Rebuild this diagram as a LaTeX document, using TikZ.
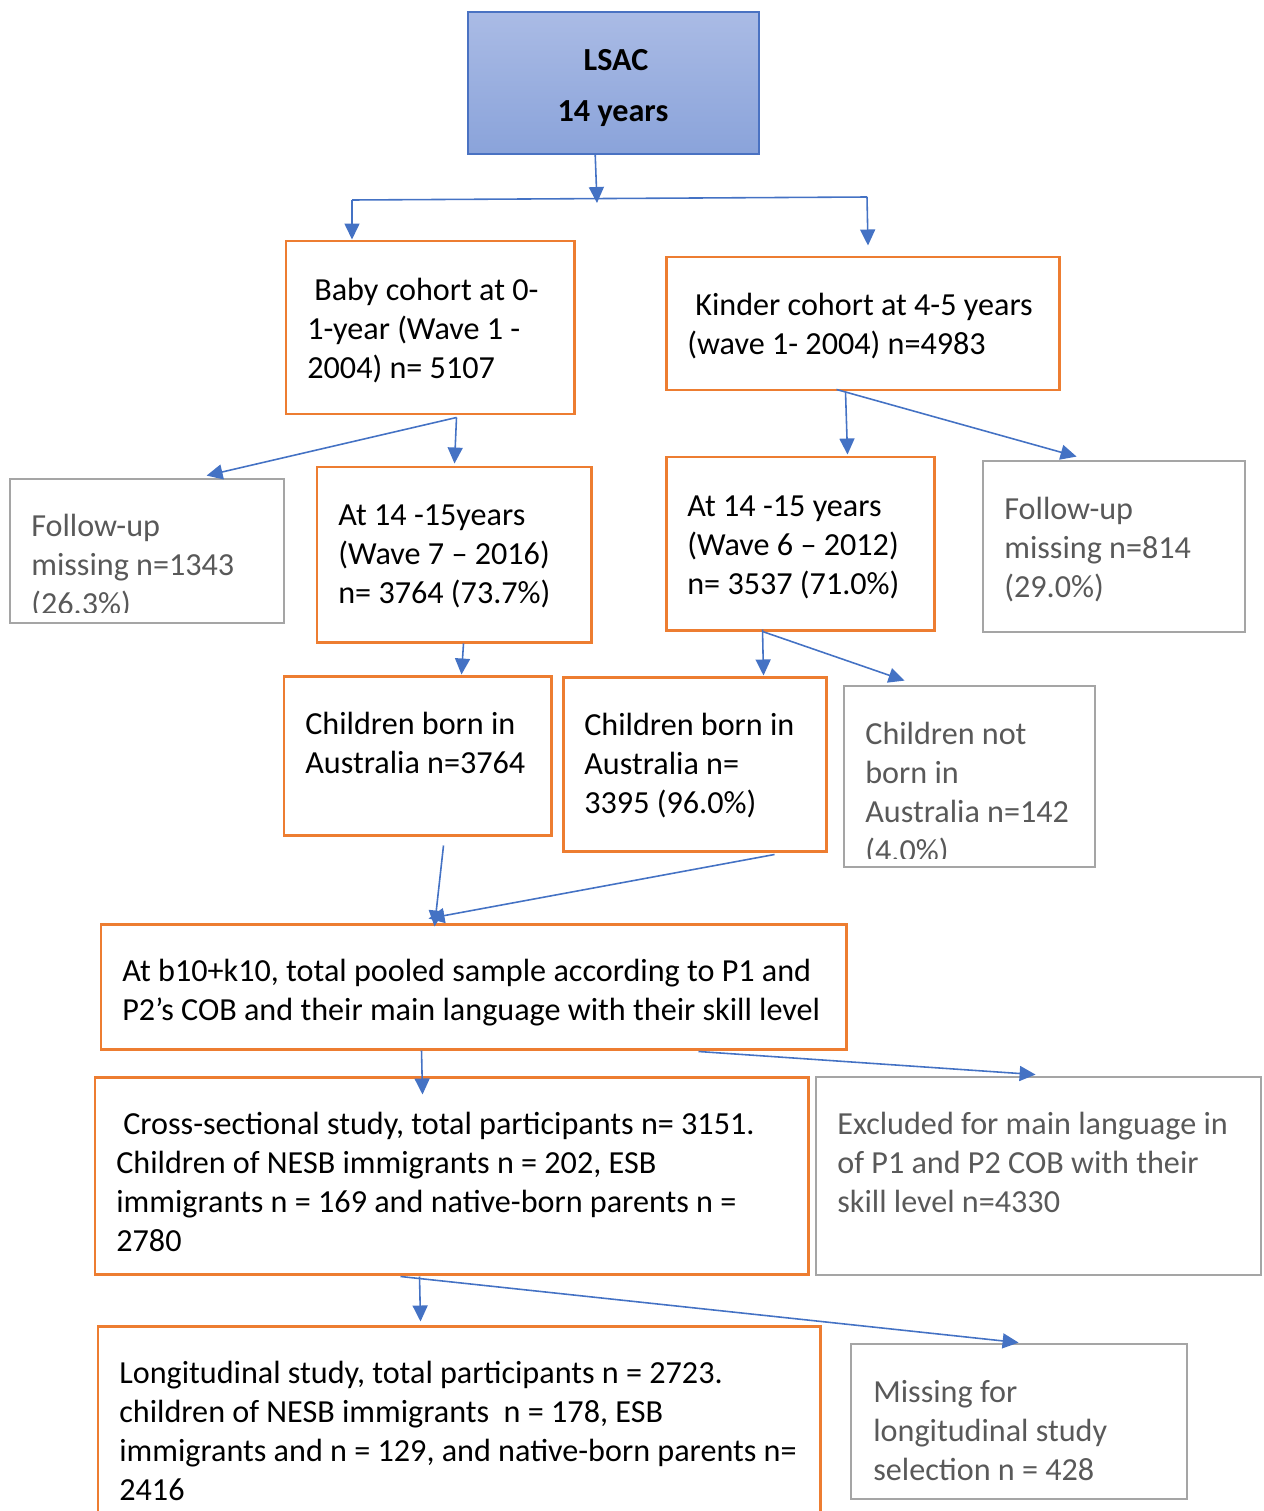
\documentclass[tikz,border=0pt]{standalone}
\usepackage{fontspec}
\setmainfont{Carlito}
\usetikzlibrary{arrows.meta,fit,calc}
\definecolor{orng}{HTML}{ED7D31}
\definecolor{gbord}{HTML}{A5A5A5}
\definecolor{gtext}{HTML}{595959}
\definecolor{arrblue}{HTML}{4472C4}
\definecolor{lbord}{HTML}{4A72C2}
\definecolor{ltop}{HTML}{AABBE5}
\definecolor{lbot}{HTML}{8AA3DA}
\begin{document}
\begin{tikzpicture}[x=0.02cm,y=-0.02cm,
  obox/.style={draw=orng,line width=1.7pt,inner sep=0pt},
  gbox/.style={draw=gbord,line width=1.6pt,inner sep=0pt},
  lbox/.style={draw=lbord,line width=0.9pt,inner sep=0pt,top color=ltop,bottom color=lbot},
  txt/.style={anchor=north west,inner sep=0pt,align=left,font=\fontsize{18.3}{22.1}\selectfont},
  gtxt/.style={txt,text=gtext},
  btxt/.style={inner sep=0pt,font=\fontsize{18.3}{22.1}\selectfont\bfseries},
  arr/.style={draw=arrblue,line width=0.9pt,-{Triangle[length=0.32cm,width=0.3cm]}},
  conn/.style={draw=arrblue,line width=0.9pt}]
\useasboundingbox (0,0) rectangle (1264,1511);
\clip (0,0) rectangle (1264,1511);

% boxes
\node[lbox,fit={(468,12) (759,154)}] (lsac) {};
\node[obox,fit={(286,241) (574,414)}] (baby) {};
\node[obox,fit={(666,257) (1059,390)}] (kinder) {};
\node[gbox,fit={(10,479) (284,623)}] (fupl) {};
\node[obox,fit={(317,467) (591,642)}] (atl) {};
\node[obox,fit={(666,457) (934,630)}] (atr) {};
\node[gbox,fit={(983,461) (1245,632)}] (fupr) {};
\node[obox,fit={(284,676) (551,835)}] (ausl) {};
\node[obox,fit={(563,677) (826,851)}] (ausr) {};
\node[gbox,fit={(844,686) (1095,867)}] (notborn) {};
\node[obox,fit={(101,924) (846,1049)}] (pooled) {};
\node[obox,fit={(95,1077) (808,1274)}] (cross) {};
\node[gbox,fit={(816,1077) (1261,1275)}] (excl) {};
\node[obox,fit={(98,1326) (820,1540)}] (long) {};
\node[gbox,fit={(851,1344) (1187,1499)}] (missing) {};

% texts
\node[btxt] (tlsac) at (616,60) {LSAC};
\node[btxt] (tyears) at (613,114) {14 years};
\node[txt] (tbaby) at (307,273) {\strut\hspace*{0.14cm}Baby cohort at 0-\\1-year (Wave 1 -\\2004) n= 5107};
\node[txt] (tkinder) at (687,288) {\strut\hspace*{0.16cm}Kinder cohort at 4-5 years\\(wave 1- 2004) n=4983};
\begin{scope}
\clip (10,479) rectangle (284,612);
\node[gtxt] (tfupl) at (31,509) {\strut Follow-up\\missing n=1343\\(26.3\%)};
\end{scope}
\node[txt] (tatl) at (338,498) {\strut At 14 -15years\\(Wave 7 – 2016)\\n= 3764 (73.7\%)};
\node[txt] (tatr) at (687,489) {\strut At 14 -15 years\\(Wave 6 – 2012)\\n= 3537 (71.0\%)};
\node[gtxt] (tfupr) at (1004,492) {\strut Follow-up\\missing n=814\\(29.0\%)};
\node[txt] (tausl) at (305,707) {\strut Children born in\\Australia n=3764};
\node[txt] (tausr) at (584,708) {\strut Children born in\\Australia n=\\3395 (96.0\%)};
\begin{scope}
\clip (844,686) rectangle (1095,858);
\node[gtxt] (tnotborn) at (865,717) {\strut Children not\\born in\\Australia n=142\\(4.0\%)};
\end{scope}
\node[txt] (tpooled) at (122,954) {\strut At b10+k10, total pooled sample according to P1 and\\P2’s COB and their main language with their skill level};
\node[txt] (tcross) at (116,1107) {\strut\hspace*{0.14cm}Cross-sectional study, total participants n= 3151.\\Children of NESB immigrants n = 202, ESB\\immigrants n = 169 and native-born parents n =\\2780};
\node[gtxt] (texcl) at (837,1107) {\strut Excluded for main language in\\of P1 and P2 COB with their\\skill level n=4330};
\node[txt] (tlong) at (119,1356) {\strut Longitudinal study, total participants n = 2723.\\children of NESB immigrants\ \ n = 178, ESB\\immigrants and n = 129, and native-born parents n=\\2416};
\node[gtxt] (tmissing) at (873,1375) {\strut Missing for\\longitudinal study\\selection n = 428};

% connectors
\coordinate (hl) at (352,200);
\coordinate (hr) at (867,197);
\coordinate (hm) at (597,203);
\draw[arr] ($(lsac.south west)+(128,0)$) -- (hm);
\draw[conn] (hl) -- (hr);
\draw[arr] (hl) -- (hl |- baby.north);
\draw[arr] (hr) -- ($(hr |- kinder.north)+(1,-10)$);

\draw[arr] ($(baby.south west)+(172,2)$) -- ($(atl.north west)+(139,-2)$);
\draw[arr] ($(baby.south west)+(172,2)$) -- ($(fupl.north west)+(198,-2)$);

\draw[arr] ($(kinder.south west)+(181,0)$) -- ($(atr.north west)+(183,-1)$);
\draw[arr] ($(kinder.south west)+(172,-2)$) -- ($(fupr.north west)+(95,-3)$);

\draw[arr] ($(atl.south west)+(148,0)$) -- ($(ausl.north west)+(179,0)$);

\draw[arr] ($(atr.south west)+(98,-2)$) -- ($(ausr.north west)+(202,0)$);
\draw[arr] ($(atr.south west)+(98,0)$) -- ($(notborn.north west)+(62,-4)$);

\draw[arr] ($(ausl.south west)+(161,9)$) -- ($(pooled.north west)+(335,4)$);
\draw[arr] ($(ausr.south west)+(213,2)$) -- ($(pooled.north west)+(329,-4)$);

\draw[arr] ($(pooled.south west)+(322,0)$) -- ($(cross.north west)+(329,19)$);
\draw[arr] ($(pooled.south west)+(599,1)$) -- ($(excl.north west)+(221,-1)$);

\draw[arr] ($(cross.south west)+(326,1)$) -- ($(long.north west)+(324,-3)$);
\draw[arr] ($(cross.south west)+(307,1)$) -- ($(missing.north west)+(169,0)$);
\end{tikzpicture}
\end{document}
